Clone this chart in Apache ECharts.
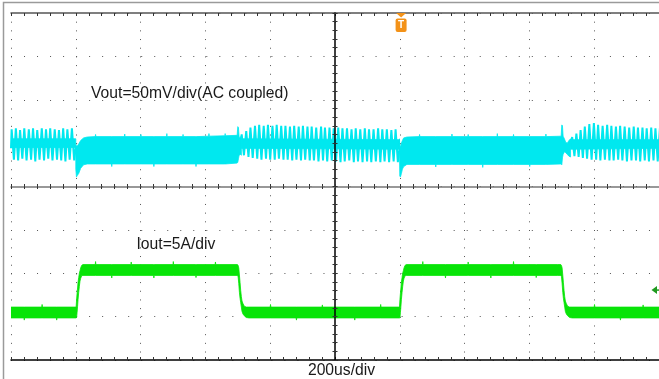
<!DOCTYPE html>
<html>
<head>
<meta charset="utf-8">
<script src="https://cdn.jsdelivr.net/npm/echarts/dist/echarts.min.js"></script>
<style>
html,body{margin:0;padding:0;background:#fff;}
#chart{width:659px;height:379px;}
</style>
</head>
<body>
<div id="chart"></div>
<script>
// ---- scope settings (time in us relative to screen centre) ----
const timeRange = [-1000, 1000];
const timePerDiv = 200;
const voutRange = [-250, 150];   // mV, 50 mV/div, AC coupled
const ioutRange = [0, 40];       // A, 5 A/div
const divRange = [-4, 4];

// ---- texts ----
const voutLabel = 'Vout=50mV/div(AC coupled)';
const ioutLabel = 'Iout=5A/div';
const timeLabel = '200us/div';
const triggerTime = 204;     // us
const triggerLevel = 8.06;   // A

// ---- Vout ripple (sawtooth) traces: [t us, mV] ----
const voutZig1 = [[-1000,-6],[-998,16],[-991,-19],[-985,17],[-978,-20],[-972,15],[-965,-18],[-959,17],[-952,-20],[-945,16],[-938,-19],[-932,17],[-925,-21],[-919,15],[-912,-19],[-905,17],[-898,-20],[-892,16],[-885,-18],[-879,17],[-872,-20],[-865,16],[-858,-19],[-852,15],[-845,-20],[-839,17],[-832,-21],[-826,16],[-819,-19],[-812,17],[-805,-20],[-800,-4]];
const voutZig2 = [[-290,6],[-288,10],[-281,-14],[-274,14],[-267,-16],[-261,18],[-254,-17],[-247,20],[-240,-18],[-234,21],[-227,-19],[-220,20],[-213,-18],[-207,21],[-200,-19],[-193,20],[-186,-19],[-180,21],[-173,-18],[-166,20],[-159,-19],[-153,20],[-146,-19],[-139,19],[-132,-20],[-126,20],[-119,-19],[-112,19],[-105,-20],[-99,20],[-92,-19],[-85,19],[-78,-20],[-72,19],[-65,-20],[-58,18],[-51,-21],[-43,19],[-37,-20],[-31,18],[-24,-21],[-17,18],[-10,-20],[-4,17],[3,-21],[10,18],[17,-22],[23,17],[30,-21],[37,17],[44,-20],[51,16],[58,-22],[64,17],[71,-21],[78,16],[85,-22],[92,17],[99,-21],[105,16],[112,-22],[119,16],[126,-21],[133,17],[140,-22],[146,16],[153,-21],[160,16],[167,-22],[174,15],[181,-21],[187,16],[194,-22],[199,-6]];
const voutZig3 = [[725,-4],[732,7],[739,-15],[745,11],[752,-16],[758,15],[765,-17],[771,19],[778,-18],[785,22],[792,-19],[799,23],[806,-19],[812,21],[819,-20],[826,20],[833,-19],[840,21],[847,-20],[853,20],[860,-20],[867,19],[874,-19],[880,20],[887,-20],[894,19],[901,-21],[908,18],[915,-20],[922,19],[929,-20],[935,18],[942,-21],[949,18],[956,-20],[962,17],[969,-21],[976,18],[983,-20],[989,17],[996,-21],[1003,18]];

// ---- Vout dense (heavy-load) envelopes: [t us, low mV, high mV] ----
const voutDense1 = [[-800,-30,-2],[-798,-39,-4],[-795,-37,-3],[-791,-35,-1],[-785,-29,3],[-776,-25,6],[-765,-24,7],[-740,-24,7.5],[-739,-24,10],[-738,-24,7.5],[-690,-24,7.5],[-689,-27,7.5],[-688,-24,7.5],[-650,-24,7.5],[-649,-24,10.5],[-648,-24,7.5],[-600,-24,7.5],[-599,-24,10],[-598,-24,7.5],[-560,-24,7.5],[-559,-27,7.5],[-558,-24,7.5],[-520,-24,7.5],[-519,-24,11],[-518,-24,7.5],[-470,-24,7.5],[-469,-24,10],[-468,-24,7.5],[-430,-24,7.5],[-429,-27,7.5],[-428,-24,7.5],[-390,-24,8],[-389,-24,11],[-388,-24,8],[-340,-24,8.5],[-339,-24,11],[-338,-24,8.5],[-302,-23,9],[-300,-22,19],[-298,-18,18],[-296,-14,7],[-292,-13,6],[-289,-14,8]];
const voutDense2 = [[199,-10,5],[200,-38,-3],[202,-39,-4],[205,-35,0],[208,-30,3],[212,-27,6],[222,-24.5,7],[260,-24.5,7.5],[261,-24.5,10],[262,-24.5,7.5],[310,-24.5,7.5],[311,-27.5,7.5],[312,-24.5,7.5],[360,-24.5,7.5],[361,-24.5,10.5],[362,-24.5,7.5],[410,-24.5,7.5],[411,-24.5,10],[412,-24.5,7.5],[455,-24.5,7.5],[456,-28,7.5],[457,-24.5,7.5],[500,-24.5,7.5],[501,-24.5,11],[502,-24.5,7.5],[550,-24.5,7.5],[551,-24.5,10],[552,-24.5,7.5],[600,-24.5,7.5],[601,-27,7.5],[602,-24.5,7.5],[650,-24.5,7.5],[651,-24.5,10.5],[652,-24.5,7.5],[698,-24,8],[700,-25,21],[702,-17,20],[704,-13,8],[708,-10,5],[712,-11,1],[717,-13,0],[722,-15,3],[727,-16,5]];
// solid core of the sawtooth regions
const voutMid1 = [[-1000,-5,5],[-800,-5,5]];
const voutMid2 = [[-290,-6,5],[199,-7,4]];
const voutMid3 = [[727,-7,4],[1000,-6,4]];

// ---- Iout envelope: [t us, low A, high A] ----
const ioutBand = [
 [-1000,4.85,6.1],[-960,4.85,6.1],[-959,4.6,6.1],[-958,4.85,6.1],[-905,4.85,6.1],[-904,4.85,6.4],[-903,4.85,6.1],[-860,4.85,6.1],[-859,4.6,6.1],[-858,4.85,6.1],[-812,4.85,6.1],
 [-799,4.85,6.1],[-797.5,4.9,7.0],[-796,5.5,7.7],[-794.5,6.2,8.3],[-793,7.0,9.0],[-791,7.8,9.5],[-789,8.5,10.0],[-787,9.1,10.3],[-785,9.4,10.6],[-782,9.7,10.9],[-778,9.75,11.0],
 [-740,9.75,11.0],[-739,9.75,11.35],[-738,9.75,11.0],[-690,9.75,11.0],[-689,9.45,11.0],[-688,9.75,11.0],[-630,9.75,11.0],[-629,9.75,11.3],[-628,9.75,11.0],[-560,9.75,11.0],[-559,9.45,11.0],[-558,9.75,11.0],[-500,9.75,11.0],[-499,9.75,11.35],[-498,9.75,11.0],[-430,9.75,11.0],[-429,9.5,11.0],[-428,9.75,11.0],[-370,9.75,11.0],[-369,9.75,11.3],[-368,9.75,11.0],
 [-301,9.75,11.0],[-299,9.6,10.9],[-297,8.8,10.6],[-295,7.8,9.8],[-293,7.1,8.9],[-291,6.6,8.0],[-289,6.1,7.3],[-287,5.6,6.8],[-284,5.3,6.5],[-280,5.1,6.2],[-274,4.9,6.1],[-266,4.85,6.1],
 [-200,4.85,6.1],[-199,4.85,6.4],[-198,4.85,6.1],[-120,4.85,6.1],[-119,4.6,6.1],[-118,4.85,6.1],[-40,4.85,6.1],[-39,4.85,6.35],[-38,4.85,6.1],[60,4.85,6.1],[61,4.6,6.1],[62,4.85,6.1],[140,4.85,6.1],[141,4.85,6.4],[142,4.85,6.1],
 [199,4.85,6.1],[200.5,4.9,7.0],[202,5.5,7.7],[203.5,6.2,8.3],[205,7.0,9.0],[207,7.8,9.5],[209,8.5,10.0],[211,9.1,10.3],[213,9.4,10.6],[216,9.7,10.9],[220,9.75,11.0],
 [270,9.75,11.0],[271,9.75,11.35],[272,9.75,11.0],[340,9.75,11.0],[341,9.45,11.0],[342,9.75,11.0],[410,9.75,11.0],[411,9.75,11.3],[412,9.75,11.0],[480,9.75,11.0],[481,9.45,11.0],[482,9.75,11.0],[550,9.75,11.0],[551,9.75,11.35],[552,9.75,11.0],[620,9.75,11.0],[621,9.5,11.0],[622,9.75,11.0],[686,9.75,11.0],
 [697,9.75,11.0],[699,9.6,10.9],[701,8.8,10.6],[703,7.8,9.8],[705,7.1,8.9],[707,6.6,8.0],[709,6.1,7.3],[711,5.6,6.8],[714,5.3,6.5],[718,5.1,6.2],[724,4.9,6.1],[732,4.85,6.1],
 [800,4.85,6.1],[801,4.85,6.4],[802,4.85,6.1],[880,4.85,6.1],[881,4.6,6.1],[882,4.85,6.1],[950,4.85,6.1],[951,4.85,6.35],[952,4.85,6.1],[1000,4.85,6.1]
];

const CYAN = '#00e8ef';
const GREEN = '#08e408';

function bandSeries(bands, yIdx, color) {
  return {
    type: 'custom', xAxisIndex: 0, yAxisIndex: yIdx, clip: true, silent: true, z: 2,
    data: [[bands[0][0][0], bands[0][0][1]]], encode: {x: 0, y: 1},
    renderItem: function (params, api) {
      if (params.dataIndex !== 0) return null;
      const children = bands.map(function (arr) {
        const top = arr.map(function (d) { return api.coord([d[0], d[2]]); });
        const bot = arr.map(function (d) { return api.coord([d[0], d[1]]); }).reverse();
        return {type: 'polygon', shape: {points: top.concat(bot)}, style: {fill: color, stroke: color, lineWidth: 0.8}};
      });
      return {type: 'group', children: children};
    }
  };
}
function zigSeries(data) {
  return {type: 'line', xAxisIndex: 0, yAxisIndex: 3, data: data, showSymbol: false, symbol: 'none',
    lineStyle: {color: CYAN, width: 2}, silent: true, z: 2};
}

const tickStyle = {color: '#333', width: 1};
const baseX = {type: 'value', min: timeRange[0], max: timeRange[1], interval: timePerDiv, axisLabel: {show: false}};
const baseY = {type: 'value', min: divRange[0], max: divRange[1], interval: 1, axisLabel: {show: false}};

const chart = echarts.init(document.getElementById('chart'), null, {renderer: 'canvas'});
chart.setOption({
  animation: false,
  backgroundColor: '#fff',
  grid: {left: 11, top: 13, width: 651, height: 347, containLabel: false},
  xAxis: [
    Object.assign({}, baseX, {position: 'bottom',
      axisLine: {onZero: false, lineStyle: {color: '#000', width: 1.5}},
      axisTick: {show: true, inside: true, length: 3, lineStyle: tickStyle},
      minorTick: {show: true, splitNumber: 5, length: 3, lineStyle: tickStyle},
      splitLine: {show: true, lineStyle: {color: '#555', width: 1, type: [1, 7.68]}}}),
    Object.assign({}, baseX, {position: 'top',
      axisLine: {onZero: false, lineStyle: {color: '#555', width: 1.5}},
      axisTick: {show: true, inside: true, length: 3, lineStyle: tickStyle},
      minorTick: {show: true, splitNumber: 5, length: 3, lineStyle: tickStyle},
      splitLine: {show: false}}),
    Object.assign({}, baseX, {position: 'bottom', z: 5,
      axisLine: {onZero: true, onZeroAxisIndex: 0, lineStyle: {color: '#777', width: 1.5}},
      axisTick: {show: true, inside: true, length: 2.5, lineStyle: tickStyle},
      minorTick: {show: true, splitNumber: 5, length: 2.5, lineStyle: tickStyle},
      splitLine: {show: false}}),
    Object.assign({}, baseX, {position: 'bottom', z: 5,
      axisLine: {show: false, onZero: true, onZeroAxisIndex: 0},
      axisTick: {show: true, inside: false, length: 2.5, lineStyle: tickStyle},
      minorTick: {show: true, splitNumber: 5, length: 2.5, lineStyle: tickStyle},
      splitLine: {show: false}})
  ],
  yAxis: [
    Object.assign({}, baseY, {position: 'left',
      axisLine: {show: false, onZero: false}, axisTick: {show: false},
      splitLine: {show: true, lineStyle: {color: '#555', width: 1, type: [1, 12.02]}}}),
    Object.assign({}, baseY, {position: 'left', z: 5,
      axisLine: {onZero: true, onZeroAxisIndex: 0, lineStyle: {color: '#000', width: 1.5}},
      axisTick: {show: true, inside: true, length: 2.5, lineStyle: tickStyle},
      minorTick: {show: true, splitNumber: 5, length: 2.5, lineStyle: tickStyle},
      splitLine: {show: false}}),
    Object.assign({}, baseY, {position: 'left', z: 5,
      axisLine: {show: false, onZero: true, onZeroAxisIndex: 0},
      axisTick: {show: true, inside: false, length: 2.5, lineStyle: tickStyle},
      minorTick: {show: true, splitNumber: 5, length: 2.5, lineStyle: tickStyle},
      splitLine: {show: false}}),
    {type: 'value', min: voutRange[0], max: voutRange[1], show: false},
    {type: 'value', min: ioutRange[0], max: ioutRange[1], show: false}
  ],
  series: [
    bandSeries([ioutBand], 4, GREEN),
    bandSeries([voutDense1, voutDense2, voutMid1, voutMid2, voutMid3], 3, CYAN),
    zigSeries(voutZig1),
    zigSeries(voutZig2),
    zigSeries(voutZig3)
  ]
});

const tx = chart.convertToPixel({xAxisIndex: 0}, triggerTime);
const ty = chart.convertToPixel({yAxisIndex: 4}, triggerLevel);
const FONT = '15.7px "Liberation Sans", Arial, sans-serif';
chart.setOption({
  graphic: [
    {type: 'rect', shape: {x: 3.5, y: 2.5, width: 700, height: 400}, style: {fill: 'none', stroke: '#9a9a9a', lineWidth: 1.5}, silent: true, z: 0},
    {type: 'text', x: 91, y: 93.5, style: {text: voutLabel, font: FONT, fill: '#1a1a1a', textVerticalAlign: 'middle', verticalAlign: 'middle'}, z: 20},
    {type: 'text', x: 136.5, y: 244.5, style: {text: ioutLabel, font: FONT, fill: '#1a1a1a', textVerticalAlign: 'middle', verticalAlign: 'middle'}, z: 20},
    {type: 'text', x: 341.5, y: 370.5, style: {text: timeLabel, font: FONT, fill: '#1a1a1a', textAlign: 'center', align: 'center', textVerticalAlign: 'middle', verticalAlign: 'middle'}, z: 20},
    {type: 'polygon', shape: {points: [[tx - 5, 13], [tx + 5, 13], [tx, 17.5]]}, style: {fill: '#f39218'}, z: 20},
    {type: 'rect', shape: {x: tx - 5.5, y: 18.5, width: 11, height: 13.5, r: 2}, style: {fill: '#f39218'}, z: 20},
    {type: 'text', x: tx, y: 25.5, style: {text: 'T', font: 'bold 10px "Liberation Sans", Arial, sans-serif', fill: '#fff', textAlign: 'center', align: 'center', textVerticalAlign: 'middle', verticalAlign: 'middle'}, z: 21},
    {type: 'polygon', shape: {points: [[651.5, ty], [657, ty - 4], [657, ty + 4]]}, style: {fill: '#1f9a1f'}, z: 20},
    {type: 'line', shape: {x1: 656, y1: ty, x2: 660, y2: ty}, style: {stroke: '#1f9a1f', lineWidth: 1.5}, z: 20}
  ]
});
</script>
</body>
</html>
